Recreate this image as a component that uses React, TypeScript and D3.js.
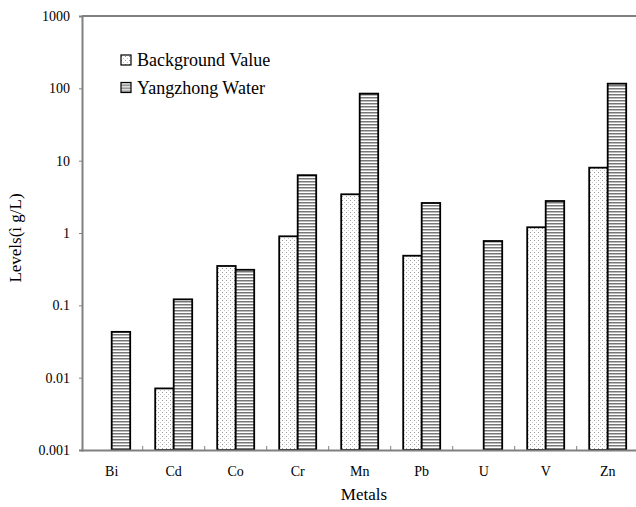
import { useEffect, useRef } from 'react';
import * as d3 from 'd3';

// Chart data
const metals = ['Bi', 'Cd', 'Co', 'Cr', 'Mn', 'Pb', 'U', 'V', 'Zn'];
const backgroundValue: (number | null)[] = [null, 0.0071, 0.35, 0.9, 3.43, 0.485, null, 1.2, 8.0];
const yangzhongWater: (number | null)[] = [0.043, 0.121, 0.31, 6.3, 84.5, 2.6, 0.775, 2.77, 116];
const yTicks = [0.001, 0.01, 0.1, 1, 10, 100, 1000];
const seriesNames = ['Background Value', 'Yangzhong Water'];

const FONT = 'Liberation Serif';

export default function App() {
  const svgRef = useRef<SVGSVGElement | null>(null);

  useEffect(() => {
    if (!svgRef.current) return;
    const root = d3.select(svgRef.current);
    root.selectAll('*').remove();

    const width = 636;
    const height = 507;
    const margin = { top: 16, right: 0, bottom: 57, left: 82 };
    const innerW = width - margin.left - margin.right;
    const innerH = height - margin.top - margin.bottom;

    // Fill patterns
    const defs = root.append('defs');
    const dots = defs.append('pattern')
      .attr('id', 'dots')
      .attr('patternUnits', 'userSpaceOnUse')
      .attr('width', 4)
      .attr('height', 4);
    dots.append('rect').attr('width', 4).attr('height', 4).attr('fill', '#fff');
    dots.append('rect').attr('x', 0).attr('y', 0).attr('width', 1).attr('height', 1).attr('fill', '#999');
    dots.append('rect').attr('x', 2).attr('y', 2).attr('width', 1).attr('height', 1).attr('fill', '#c4c4c4');

    const stripes = defs.append('pattern')
      .attr('id', 'stripes')
      .attr('patternUnits', 'userSpaceOnUse')
      .attr('width', 8)
      .attr('height', 3);
    stripes.append('rect').attr('width', 8).attr('height', 3).attr('fill', '#fff');
    stripes.append('rect').attr('y', 0).attr('width', 8).attr('height', 1.5).attr('fill', '#777');

    const svg = root.append('g')
      .attr('transform', `translate(${margin.left},${margin.top})`);

    const x = d3.scaleBand<string>()
      .domain(metals)
      .range([-1.3, -1.3 + 62 * metals.length]);

    const xSub = d3.scaleBand<string>()
      .domain(seriesNames)
      .range([x.bandwidth() / 2 - 18.5, x.bandwidth() / 2 + 18.5]);

    const y = d3.scaleLog()
      .domain([0.001, 1000])
      .range([innerH, 0]);

    // Top frame line
    svg.append('line')
      .attr('x1', 0).attr('x2', innerW)
      .attr('y1', 0).attr('y2', 0)
      .attr('stroke', '#808080')
      .attr('stroke-width', 2);

    // Bars
    const series = [
      { name: seriesNames[0], values: backgroundValue, fill: 'url(#dots)' },
      { name: seriesNames[1], values: yangzhongWater, fill: 'url(#stripes)' },
    ];
    series.forEach(s => {
      svg.append('g')
        .selectAll('rect')
        .data(metals.map((m, i) => ({ m, v: s.values[i] })).filter(d => d.v !== null))
        .enter()
        .append('rect')
        .attr('x', d => (x(d.m) as number) + (xSub(s.name) as number))
        .attr('y', d => y(d.v as number))
        .attr('width', xSub.bandwidth())
        .attr('height', d => innerH - y(d.v as number))
        .attr('fill', s.fill)
        .attr('stroke', '#000')
        .attr('stroke-width', 1.8);
    });

    // Y axis
    const yAxis = svg.append('g')
      .call(d3.axisLeft(y).tickValues(yTicks).tickFormat(d => String(d)).tickSize(3).tickPadding(9));
    yAxis.select('.domain').attr('stroke', '#808080').attr('stroke-width', 2);
    yAxis.selectAll('.tick line').attr('stroke', '#808080');
    yAxis.selectAll('.tick text')
      .style('font-family', FONT)
      .style('font-size', '14px')
      .attr('fill', '#000');

    // X axis
    const xAxis = svg.append('g')
      .attr('transform', `translate(0,${innerH})`)
      .call(d3.axisBottom(x).tickSize(0).tickPadding(16));
    xAxis.select('.domain').attr('stroke', '#808080').attr('stroke-width', 2);
    xAxis.selectAll('.tick text')
      .style('font-family', FONT)
      .style('font-size', '14px')
      .attr('fill', '#000');

    // Category separators on the x axis
    svg.append('g')
      .selectAll('line')
      .data(metals.slice(1))
      .enter()
      .append('line')
      .attr('x1', d => x(d) as number)
      .attr('x2', d => x(d) as number)
      .attr('y1', innerH)
      .attr('y2', innerH - 4)
      .attr('stroke', '#808080');

    // Axis titles
    svg.append('text')
      .attr('x', innerW / 2 + 5)
      .attr('y', innerH + 50)
      .attr('text-anchor', 'middle')
      .style('font-family', FONT)
      .style('font-size', '17px')
      .text('Metals');

    svg.append('text')
      .attr('transform', 'rotate(-90)')
      .attr('x', -(y(1) + 5))
      .attr('y', -margin.left + 21)
      .attr('text-anchor', 'middle')
      .style('font-family', FONT)
      .style('font-size', '17px')
      .text('Levels(ì g/L)');

    // Legend
    const legend = svg.append('g').attr('transform', 'translate(39,44)');
    series.forEach((s, i) => {
      const g = legend.append('g').attr('transform', `translate(0,${i * 27.5})`);
      g.append('rect')
        .attr('x', 0).attr('y', -5)
        .attr('width', 10).attr('height', 10)
        .attr('fill', s.fill)
        .attr('stroke', '#000')
        .attr('stroke-width', 1.2);
      g.append('text')
        .attr('x', 16)
        .attr('y', 0)
        .attr('dy', '0.35em')
        .style('font-family', FONT)
        .style('font-size', '18px')
        .text(s.name);
    });
  }, []);

  return (
    <svg
      ref={svgRef}
      width={636}
      height={507}
      style={{ position: 'absolute', left: 0, top: 0, background: '#fff' }}
    />
  );
}
